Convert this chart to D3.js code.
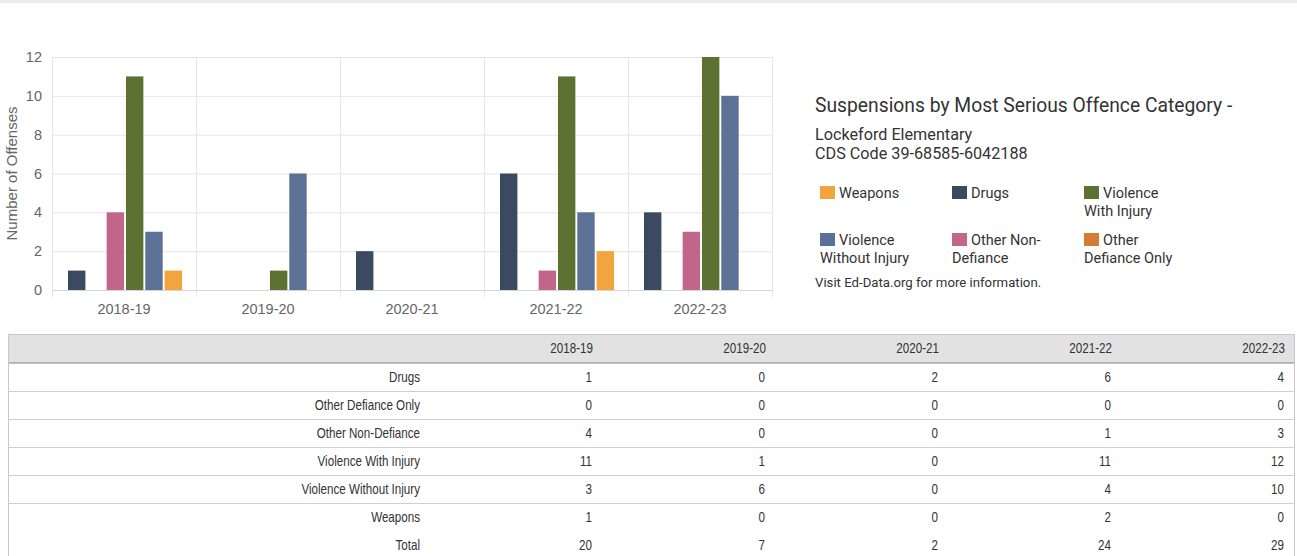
<!DOCTYPE html>
<html>
<head>
<meta charset="utf-8">
<script src="https://cdn.jsdelivr.net/npm/d3@7"></script>
<style>
  body { margin: 0; background: #fff; }
  svg { display: block; }
  .axis text { font-family: "Liberation Sans", Arial, sans-serif; font-size: 14.5px; fill: #666; }
  .axis path, .axis line { display: none; }
  .legend text, .title text { font-family: Roboto, "Noto Sans", sans-serif; fill: #333; }
  .tbl text { font-family: "Liberation Sans", Arial, sans-serif; font-size: 14px; fill: #333; }
</style>
</head>
<body>
<svg id="chart" width="1297" height="556"></svg>
<script>
// years and series
const years = ["2018-19", "2019-20", "2020-21", "2021-22", "2022-23"];
const categories = ["Drugs", "Other Defiance Only", "Other Non-Defiance",
                    "Violence With Injury", "Violence Without Injury", "Weapons"];
const drugs = [1, 0, 2, 6, 4];
const otherDefianceOnly = [0, 0, 0, 0, 0];
const otherNonDefiance = [4, 0, 0, 1, 3];
const violenceWithInjury = [11, 1, 0, 11, 12];
const violenceWithoutInjury = [3, 6, 0, 4, 10];
const weapons = [1, 0, 0, 2, 0];
const yTicks = [0, 2, 4, 6, 8, 10, 12];

const seriesValues = [drugs, otherDefianceOnly, otherNonDefiance,
                      violenceWithInjury, violenceWithoutInjury, weapons];
const colors = ["#3a4a60", "#d27d33", "#c2658b", "#5b7232", "#5b7196", "#f2a53d"];

// legend is laid out in a different order than the bars
const legendOrder = [5, 0, 3, 4, 2, 1];
const legendLines = {
    "Weapons": ["Weapons"],
    "Drugs": ["Drugs"],
    "Violence With Injury": ["Violence", "With Injury"],
    "Violence Without Injury": ["Violence", "Without Injury"],
    "Other Non-Defiance": ["Other Non-", "Defiance"],
    "Other Defiance Only": ["Other", "Defiance Only"]
};

let svg = d3.select("#chart");

// thin grey strip on top of the page
svg.append("rect").attr("x", 0).attr("y", 0).attr("width", 1297).attr("height", 3).attr("fill", "#ececec");

let margin = { left: 52, right: 772, top: 57, bottom: 290 };

let x0 = d3.scaleBand().domain(years).range([margin.left, margin.right]);
let x1 = d3.scaleBand().domain(categories).range([16, 130]).paddingInner(0.1);
let y = d3.scaleLinear().domain([0, 12]).range([margin.bottom, margin.top]);

// grid
let grid = svg.append("g");
grid.selectAll(".hgrid")
    .data(yTicks)
    .enter().append("line")
    .attr("x1", margin.left).attr("x2", margin.right)
    .attr("y1", d => y(d) + 0.5).attr("y2", d => y(d) + 0.5)
    .attr("stroke", d => d === 0 ? "#d6d6d6" : "#e6e6e6");

let bounds = years.map(d => x0(d)).concat([margin.right]);
grid.selectAll(".vgrid")
    .data(bounds)
    .enter().append("line")
    .attr("x1", d => Math.round(d) + 0.5).attr("x2", d => Math.round(d) + 0.5)
    .attr("y1", margin.top).attr("y2", margin.bottom + 7)
    .attr("stroke", "#e6e6e6");

// bars
let groups = svg.append("g").selectAll("g")
    .data(years)
    .enter().append("g")
    .attr("transform", d => "translate(" + x0(d) + ",0)");

groups.selectAll("rect")
    .data((d, i) => categories.map((c, k) => ({ cat: c, k: k, value: seriesValues[k][i] })))
    .enter().filter(d => d.value > 0).append("rect")
    .attr("x", d => x1(d.cat))
    .attr("width", x1.bandwidth())
    .attr("y", d => y(d.value))
    .attr("height", d => y(0) - y(d.value))
    .attr("fill", d => colors[d.k]);

// axes
svg.append("g")
    .attr("class", "axis")
    .attr("transform", "translate(" + (margin.left - 8) + ",0)")
    .call(d3.axisLeft(y).tickValues(yTicks).tickSize(0).tickPadding(2));

svg.append("g")
    .attr("class", "axis")
    .attr("transform", "translate(0," + (margin.bottom + 12) + ")")
    .call(d3.axisBottom(x0).tickSize(0).tickPadding(2));

svg.append("text")
    .attr("transform", "translate(17," + ((margin.top + margin.bottom) / 2) + ") rotate(-90)")
    .attr("text-anchor", "middle")
    .style("font-family", "'Liberation Sans', Arial, sans-serif")
    .style("font-size", "15px")
    .style("fill", "#666")
    .text("Number of Offenses");

// title block
let title = svg.append("g").attr("class", "title");
title.append("text").attr("x", 815).attr("y", 112).style("font-size", "19.3px")
    .text("Suspensions by Most Serious Offence Category -");
title.append("text").attr("x", 815).attr("y", 140).style("font-size", "16.2px")
    .text("Lockeford Elementary");
title.append("text").attr("x", 815).attr("y", 159).style("font-size", "16.2px")
    .text("CDS Code 39-68585-6042188");

// legend
let legend = svg.append("g").attr("class", "legend");
let items = legend.selectAll("g")
    .data(legendOrder)
    .enter().append("g")
    .attr("transform", (d, i) => "translate(" + (820 + (i % 3) * 132) + "," + (186 + Math.floor(i / 3) * 47) + ")");

items.append("rect")
    .attr("width", 15).attr("height", 13)
    .attr("fill", d => colors[d]);

items.each(function(d) {
    let lines = legendLines[categories[d]];
    d3.select(this).selectAll("text")
        .data(lines)
        .enter().append("text")
        .attr("x", (l, j) => j === 0 ? 19 : 0)
        .attr("y", (l, j) => 12 + j * 18)
        .style("font-size", "14.5px")
        .text(l => l);
});

legend.append("text").attr("x", 815).attr("y", 287).style("font-size", "13.2px")
    .text("Visit Ed-Data.org for more information.");

// table
let tbl = svg.append("g").attr("class", "tbl");
let tLeft = 8, tRight = 1294, tTop = 334, rowH = 28, labelRight = 429;
let colW = (tRight - labelRight) / years.length;
let rowNames = categories.concat(["Total"]);
let totals = years.map((yr, i) => d3.sum(seriesValues, s => s[i]));
let rows = seriesValues.concat([totals]);
let squeeze = 0.83; // no narrow font installed, so squash it

function narrow(sel, xf, yy) {
    sel.attr("text-anchor", "end")
        .attr("transform", (d, i) => "translate(" + xf(d, i) + "," + yy + ") scale(" + squeeze + ",1)");
}

tbl.append("rect")
    .attr("x", tLeft + 0.5).attr("y", tTop + 0.5)
    .attr("width", tRight - tLeft).attr("height", rowH)
    .attr("fill", "#e2e2e2").attr("stroke", "#c8c8c8");

tbl.append("line")
    .attr("x1", tLeft).attr("x2", tRight + 1)
    .attr("y1", tTop + rowH + 1).attr("y2", tTop + rowH + 1)
    .attr("stroke", "#aaa").attr("stroke-width", 1.5);

tbl.selectAll(".hdr")
    .data(years)
    .enter().append("text")
    .call(narrow, (d, i) => labelRight + (i + 1) * colW - 9, tTop + 19)
    .text(d => d);

// outer side borders
[tLeft + 0.5, tRight + 0.5].forEach(xx => {
    tbl.append("line").attr("x1", xx).attr("x2", xx)
        .attr("y1", tTop + rowH).attr("y2", 556).attr("stroke", "#c8c8c8");
});

let rowG = tbl.selectAll(".row")
    .data(rows)
    .enter().append("g")
    .attr("transform", (d, i) => "translate(0," + (tTop + rowH * (i + 1) + 1) + ")");

rowG.filter((d, i) => i > 0 && i < rows.length - 1)
    .append("line")
    .attr("x1", tLeft).attr("x2", tRight + 1)
    .attr("y1", 0.5).attr("y2", 0.5)
    .attr("stroke", "#cfcfcf");

rowG.append("text")
    .call(narrow, () => labelRight - 9, 19)
    .text((d, i) => rowNames[i]);

rowG.selectAll(".v")
    .data(d => d)
    .enter().append("text")
    .call(narrow, (v, i) => labelRight + (i + 1) * colW - 10, 19)
    .text(v => v);
</script>
</body>
</html>
